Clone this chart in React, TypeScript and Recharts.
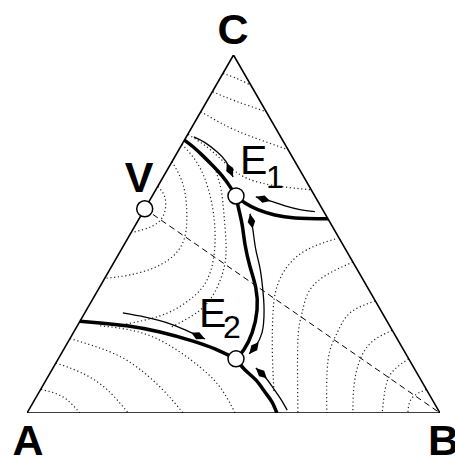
import React from 'react';
import { ComposedChart, Line, Scatter, XAxis, YAxis } from 'recharts';

type Pt = { x: number; y: number };
const toPts = (rows: number[][]): Pt[] => rows.map(([x, y]) => ({ x, y }));

const H = Math.sqrt(3) / 2;

// triangle A-B-C (A bottom left, B bottom right, C top)
const triangle = toPts([[0, 0], [1, 0], [0.5, H], [0, 0]]);

// special points
const pointV = { x: 0.285, y: 0.494 };
const pointE1 = { x: 0.506, y: 0.525 };
const pointE2 = { x: 0.506, y: 0.131 };
const fixedPoints = [pointV, pointE1, pointE2];

const dashedLine = [pointV, { x: 1, y: 0 }];

// separatrices (thick)
const sepLeftTop = toPts([[0.381, 0.66], [0.402, 0.644], [0.426, 0.622], [0.45, 0.598], [0.472, 0.574], [0.492, 0.547], [0.506, 0.525]]);
const sepRightTop = toPts([[0.506, 0.525], [0.528, 0.508], [0.559, 0.492], [0.6, 0.479], [0.649, 0.472], [0.729, 0.47]]);
const sepMiddle = toPts([[0.506, 0.525], [0.513, 0.492], [0.521, 0.455], [0.528, 0.407], [0.54, 0.354], [0.554, 0.303], [0.557, 0.249], [0.545, 0.194], [0.525, 0.153], [0.506, 0.131]]);
const sepLeftBottom = toPts([[0.128, 0.222], [0.177, 0.218], [0.242, 0.211], [0.322, 0.196], [0.402, 0.174], [0.455, 0.155], [0.506, 0.131]]);
const sepRightBottom = toPts([[0.506, 0.131], [0.528, 0.104], [0.554, 0.08], [0.576, 0.051], [0.593, 0.027], [0.605, 0]]);
const separatrices = [sepLeftTop, sepRightTop, sepMiddle, sepLeftBottom, sepRightBottom];

// trajectories (thin, arrow at the end)
const trajTopLeft = toPts([[0.404, 0.668], [0.431, 0.654], [0.46, 0.632], [0.482, 0.608], [0.499, 0.571]]);
const trajTopRight = toPts([[0.697, 0.487], [0.661, 0.492], [0.625, 0.501], [0.588, 0.513], [0.554, 0.523]]);
const trajMiddle = toPts([[0.54, 0.482], [0.547, 0.443], [0.554, 0.395], [0.564, 0.351], [0.571, 0.298], [0.574, 0.249], [0.569, 0.194], [0.552, 0.16], [0.538, 0.143]]);
const trajBottomLeft = toPts([[0.232, 0.242], [0.286, 0.232], [0.334, 0.22], [0.383, 0.201], [0.431, 0.179]]);
const trajBottomRight = toPts([[0.63, 0.007], [0.613, 0.036], [0.593, 0.065], [0.574, 0.09], [0.554, 0.109]]);
const trajectories = [trajTopLeft, trajTopRight, trajMiddle, trajBottomLeft, trajBottomRight];

// level curves (dotted)
const levelC = [
  toPts([[0.475, 0.821], [0.504, 0.811], [0.54, 0.794]]),
  toPts([[0.45, 0.777], [0.504, 0.755], [0.579, 0.729]]),
  toPts([[0.421, 0.729], [0.492, 0.69], [0.564, 0.661], [0.632, 0.637]]),
  toPts([[0.39, 0.674], [0.44, 0.64], [0.485, 0.6], [0.532, 0.568], [0.6, 0.55], [0.688, 0.54]]),
];
const levelV = [
  toPts([[0.317, 0.548], [0.334, 0.521], [0.332, 0.482], [0.305, 0.453], [0.252, 0.436]]),
  toPts([[0.351, 0.608], [0.378, 0.552], [0.387, 0.479], [0.375, 0.407], [0.322, 0.358], [0.249, 0.334], [0.189, 0.326]]),
  toPts([[0.375, 0.65], [0.419, 0.593], [0.448, 0.504], [0.455, 0.407], [0.436, 0.322], [0.387, 0.269], [0.322, 0.235], [0.23, 0.213]]),
  toPts([[0.455, 0.593], [0.47, 0.54], [0.477, 0.479], [0.482, 0.407], [0.477, 0.351], [0.455, 0.293], [0.414, 0.245], [0.346, 0.206]]),
];
const levelA = [
  toPts([[0.034, 0.057], [0.087, 0.039], [0.128, 0]]),
  toPts([[0.07, 0.121], [0.128, 0.099], [0.189, 0.061], [0.245, 0]]),
  toPts([[0.104, 0.18], [0.177, 0.157], [0.249, 0.123], [0.322, 0.063], [0.378, 0]]),
  toPts([[0.177, 0.211], [0.305, 0.184], [0.419, 0.111], [0.472, 0.056], [0.504, 0]]),
];
const levelB = [
  toPts([[0.746, 0.421], [0.678, 0.395], [0.63, 0.354], [0.605, 0.305], [0.596, 0.249], [0.594, 0.153], [0.598, 0.051]]),
  toPts([[0.789, 0.365], [0.734, 0.339], [0.685, 0.298], [0.666, 0.242], [0.656, 0.177], [0.656, 0]]),
  toPts([[0.843, 0.271], [0.782, 0.242], [0.751, 0.194], [0.729, 0.128], [0.726, 0]]),
  toPts([[0.884, 0.2], [0.835, 0.172], [0.806, 0.128], [0.792, 0.068], [0.789, 0]]),
  toPts([[0.924, 0.131], [0.884, 0.099], [0.867, 0.056], [0.86, 0]]),
  toPts([[0.967, 0.057], [0.932, 0.036], [0.922, 0]]),
];
const levelCurves = [...levelC, ...levelV, ...levelA, ...levelB];

// arrowheads sit at the ends of the trajectories
const arrows = [
  ...trajectories.map((t) => ({ ...t[t.length - 1], px: t[t.length - 2].x, py: t[t.length - 2].y })),
  { ...trajMiddle[0], px: trajMiddle[1].x, py: trajMiddle[1].y },
];

const ArrowHead = (props: any) => {
  const { cx, cy, payload } = props;
  const ang = (Math.atan2(-(payload.y - payload.py), payload.x - payload.px) * 180) / Math.PI;
  return (
    <polygon
      points="0,0 -8,-3.8 -15,0 -8,3.8"
      fill="#000"
      transform={`translate(${cx},${cy}) rotate(${ang})`}
    />
  );
};

const OpenDot = (props: any) => (
  <circle cx={props.cx} cy={props.cy} r={8} fill="#fff" stroke="#000" strokeWidth={1.5} />
);

const font = '"Liberation Sans", Arial, Helvetica, sans-serif';

export default function App() {
  return (
    <div style={{ position: 'absolute', left: 0, top: 0, width: 455, height: 456, background: '#fff' }}>
      <ComposedChart width={455} height={456} margin={{ top: 55, right: 15, bottom: 43, left: 27 }}>
        <XAxis type="number" dataKey="x" domain={[0, 1]} hide allowDataOverflow />
        <YAxis type="number" dataKey="y" domain={[0, H]} hide allowDataOverflow />
        {levelCurves.map((c, i) => (
          <Line key={`lv${i}`} data={c} dataKey="y" type="natural" stroke="#222" strokeWidth={1.2}
            strokeDasharray="1.2 2.6" dot={false} isAnimationActive={false} />
        ))}
        <Line data={dashedLine} dataKey="y" type="linear" stroke="#000" strokeWidth={1}
          strokeDasharray="6 4" dot={false} isAnimationActive={false} />
        <Line data={triangle} dataKey="y" type="linear" stroke="#000" strokeWidth={1.6}
          dot={false} isAnimationActive={false} />
        {separatrices.map((c, i) => (
          <Line key={`sp${i}`} data={c} dataKey="y" type="natural" stroke="#000" strokeWidth={3.5}
            dot={false} isAnimationActive={false} />
        ))}
        {trajectories.map((c, i) => (
          <Line key={`tr${i}`} data={c} dataKey="y" type="natural" stroke="#000" strokeWidth={1.3}
            dot={false} isAnimationActive={false} />
        ))}
        <Scatter data={arrows} dataKey="y" shape={ArrowHead} isAnimationActive={false} />
        <Scatter data={fixedPoints} dataKey="y" shape={OpenDot} isAnimationActive={false} />
      </ComposedChart>
      <svg width={455} height={456} style={{ position: 'absolute', left: 0, top: 0, pointerEvents: 'none' }}>
        <g fontFamily={font} fill="#000">
          <text x={233} y={44} fontSize={43} fontWeight="bold" textAnchor="middle">C</text>
          <text x={139} y={192} fontSize={43} fontWeight="bold" textAnchor="middle">V</text>
          <text x={28} y={455} fontSize={43} fontWeight="bold" textAnchor="middle">A</text>
          <text x={428} y={455} fontSize={43} fontWeight="bold">B</text>
          <text x={240} y={174} fontSize={41}>E</text>
          <text x={266} y={188} fontSize={32}>1</text>
          <text x={199} y={327} fontSize={41}>E</text>
          <text x={223} y={338} fontSize={32}>2</text>
        </g>
      </svg>
    </div>
  );
}
